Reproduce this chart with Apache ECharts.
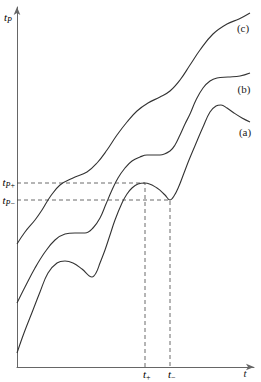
<!DOCTYPE html>
<html><head><meta charset="utf-8">
<script src="https://cdn.jsdelivr.net/npm/echarts@6/dist/echarts.min.js"></script>
<style>html,body{margin:0;padding:0;background:#fff}#c{width:261px;height:382px}</style>
</head><body><div id="c"></div>
<script>
// curve data (t, tP) in arbitrary schematic units
const curveA = [[0,14],[7,34],[16,57],[23,75],[31,94],[40,104],[48,106],[56,104],[65,98],[75,90],[79,94],[83,104],[88,117],[93,132],[98,147],[105,164],[110,173],[115,179],[121,183],[128,184],[140,179],[148,172],[153,167],[157,171],[162,181],[167,194],[172,207],[180,226],[186,240],[193,255],[199,261],[204,262],[210,259],[217,254],[225,249],[233,245]];
const curveB = [[0,64],[8,80],[18,99],[28,115],[38,127],[48,133],[58,134],[68,134],[76,139],[83,149],[89,163],[95,177],[101,189],[108,199],[115,206],[123,210],[130,212],[143,212],[153,216],[158,222],[163,232],[168,243],[173,253],[179,267],[186,279],[193,286],[200,289],[211,290],[223,291],[233,294]];
const curveC = [[0,123],[8,135],[18,147],[25,157],[33,170],[43,182],[56,189],[70,195],[80,204],[90,217],[100,232],[110,245],[120,256],[131,264],[143,270],[153,276],[163,287],[173,302],[183,317],[196,333],[210,343],[222,348],[233,354]];
const curveNames = ['(a)','(b)','(c)'];
const tPlus = 128, tMinus = 153;      // t+ and t-
const tpPlus = 184, tpMinus = 167;    // tP+ and tP-
const xMax = 237, yMax = 360;

const serif = 'Liberation Serif, DejaVu Serif, serif';
const chart = echarts.init(document.getElementById('c'), null, {renderer:'svg'});
const lineCol = '#333';
function curve(name, data){
  return {type:'line', name, data, smooth:0.4, showSymbol:false, silent:true,
    lineStyle:{color:lineCol, width:1.1}};
}
function guide(data){
  return {type:'line', data, showSymbol:false, silent:true, smooth:false,
    lineStyle:{color:'#444', width:0.8, type:[4,3]}};
}
const axisLine = {show:true, symbol:['none','arrow'], symbolSize:[5,8],
  lineStyle:{color:'#666', width:1}};
chart.setOption({
  animation:false,
  grid:{left:17, right:7, top:7, bottom:15},
  xAxis:{type:'value', min:0, max:xMax, axisLine, axisTick:{show:false}, axisLabel:{show:false}, splitLine:{show:false}},
  yAxis:{type:'value', min:0, max:yMax, axisLine, axisTick:{show:false}, axisLabel:{show:false}, splitLine:{show:false}},
  series:[
    guide([[0,tpPlus],[tPlus,tpPlus],[tPlus,0]]),
    guide([[0,tpMinus],[tMinus,tpMinus],[tMinus,0]]),
    curve(curveNames[0], curveA),
    curve(curveNames[1], curveB),
    curve(curveNames[2], curveC)
  ]
});

const P = (x,y)=>chart.convertToPixel({gridIndex:0},[x,y]);
const o = P(0,0);
const rich = {
  t:{fontFamily:serif, fontStyle:'italic', fontSize:11, lineHeight:13, verticalAlign:'top', color:'#222'},
  s:{fontFamily:serif, fontStyle:'italic', fontSize:8, lineHeight:13, verticalAlign:'bottom', color:'#222'},
  n:{fontFamily:serif, fontSize:8, lineHeight:13, verticalAlign:'bottom', color:'#222'}
};
function sub(main, s, x, y, align, n){
  return {type:'text', x, y, silent:true, style:{
    text:'{t|'+main+'}'+(s?'{s|'+s+'}':'')+(n?'{n|'+n+'}':''), rich, align:align||'left', verticalAlign:'middle'}};
}
function plain(text, x, y){
  return {type:'text', x, y, silent:true, style:{text, fontFamily:serif, fontSize:11, fill:'#222', align:'center', verticalAlign:'middle'}};
}
const pp = P(0,tpPlus), pm = P(0,tpMinus), xp = P(tPlus,0), xm = P(tMinus,0);
const eA = P(...curveA[curveA.length-1]), eB = P(...curveB[curveB.length-1]), eC = P(...curveC[curveC.length-1]);
chart.setOption({graphic:[
  sub('t','P', o[0]-13, 18),
  sub('t','P', o[0]-2, pp[1], 'right', '+'),
  sub('t','P', o[0]-2, pm[1]+1, 'right', '\u2212'),
  sub('t','', xp[0]-2, o[1]+8, 'left', '+'),
  sub('t','', xm[0]-2, o[1]+8, 'left', '\u2212'),
  {type:'text', x:245, y:373, silent:true, style:{text:'t', fontFamily:serif, fontStyle:'italic', fontSize:11, fill:'#222', align:'center', verticalAlign:'middle'}},
  plain(curveNames[2], eC[0]-7, eC[1]+15),
  plain(curveNames[1], eB[0]-6, eB[1]+16),
  plain(curveNames[0], eA[0]-5, eA[1]+10)
]});
</script></body></html>
